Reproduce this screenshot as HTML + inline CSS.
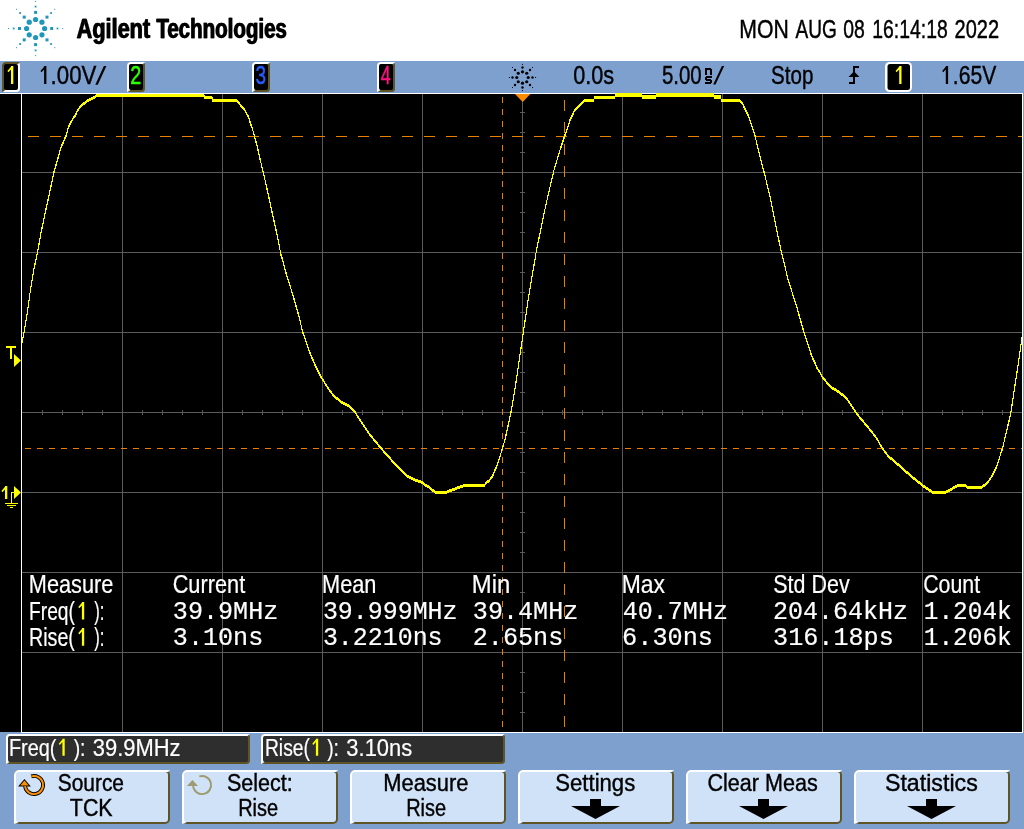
<!DOCTYPE html>
<html><head><meta charset="utf-8"><title>Agilent Technologies</title>
<style>html,body{margin:0;padding:0;background:#fff;}body{width:1024px;height:829px;overflow:hidden;font-family:"Liberation Sans",sans-serif;}svg{display:block;position:absolute;left:0;top:0;will-change:transform;}text{font-family:"Liberation Sans",sans-serif;white-space:pre;}</style>
</head><body>
<svg width="1024" height="829" viewBox="0 0 1024 829">
<rect x="0" y="0" width="1024" height="61" fill="#fff"/>
<rect x="0" y="61" width="1024" height="768" fill="#7da0cf"/>
<g shape-rendering="crispEdges">
<rect x="0" y="94" width="21" height="638" fill="#000"/>
<rect x="0" y="93" width="1023" height="1" fill="#fff"/>
<rect x="21" y="93" width="1002" height="640" fill="#fff"/>
<rect x="22" y="94" width="1000" height="638" fill="#000"/>
<path d="M122 94h1v638h-1zM222 94h1v638h-1zM322 94h1v638h-1zM422 94h1v638h-1zM522 94h1v638h-1zM622 94h1v638h-1zM722 94h1v638h-1zM822 94h1v638h-1zM922 94h1v638h-1zM22 172h1000v1h-1000zM22 252h1000v1h-1000zM22 332h1000v1h-1000zM22 412h1000v1h-1000zM22 492h1000v1h-1000zM22 572h1000v1h-1000zM22 652h1000v1h-1000zM42 410h1v5h-1zM62 410h1v5h-1zM82 410h1v5h-1zM102 410h1v5h-1zM142 410h1v5h-1zM162 410h1v5h-1zM182 410h1v5h-1zM202 410h1v5h-1zM242 410h1v5h-1zM262 410h1v5h-1zM282 410h1v5h-1zM302 410h1v5h-1zM342 410h1v5h-1zM362 410h1v5h-1zM382 410h1v5h-1zM402 410h1v5h-1zM442 410h1v5h-1zM462 410h1v5h-1zM482 410h1v5h-1zM502 410h1v5h-1zM542 410h1v5h-1zM562 410h1v5h-1zM582 410h1v5h-1zM602 410h1v5h-1zM642 410h1v5h-1zM662 410h1v5h-1zM682 410h1v5h-1zM702 410h1v5h-1zM742 410h1v5h-1zM762 410h1v5h-1zM782 410h1v5h-1zM802 410h1v5h-1zM842 410h1v5h-1zM862 410h1v5h-1zM882 410h1v5h-1zM902 410h1v5h-1zM942 410h1v5h-1zM962 410h1v5h-1zM982 410h1v5h-1zM1002 410h1v5h-1zM520 112h5v1h-5zM520 132h5v1h-5zM520 152h5v1h-5zM520 192h5v1h-5zM520 212h5v1h-5zM520 232h5v1h-5zM520 272h5v1h-5zM520 292h5v1h-5zM520 312h5v1h-5zM520 352h5v1h-5zM520 372h5v1h-5zM520 392h5v1h-5zM520 432h5v1h-5zM520 452h5v1h-5zM520 472h5v1h-5zM520 512h5v1h-5zM520 532h5v1h-5zM520 552h5v1h-5zM520 592h5v1h-5zM520 612h5v1h-5zM520 632h5v1h-5zM520 672h5v1h-5zM520 692h5v1h-5zM520 712h5v1h-5z" fill="#5a5a5a"/>
<path d="M28 136h11v1h-11zM50 136h11v1h-11zM72 136h11v1h-11zM94 136h11v1h-11zM116 136h11v1h-11zM138 136h11v1h-11zM160 136h11v1h-11zM182 136h11v1h-11zM204 136h11v1h-11zM226 136h11v1h-11zM248 136h11v1h-11zM270 136h11v1h-11zM292 136h11v1h-11zM314 136h11v1h-11zM336 136h11v1h-11zM358 136h11v1h-11zM380 136h11v1h-11zM402 136h11v1h-11zM424 136h11v1h-11zM446 136h11v1h-11zM468 136h11v1h-11zM490 136h11v1h-11zM512 136h11v1h-11zM534 136h11v1h-11zM556 136h11v1h-11zM578 136h11v1h-11zM600 136h11v1h-11zM622 136h11v1h-11zM644 136h11v1h-11zM666 136h11v1h-11zM688 136h11v1h-11zM710 136h11v1h-11zM732 136h11v1h-11zM754 136h11v1h-11zM776 136h11v1h-11zM798 136h11v1h-11zM820 136h11v1h-11zM842 136h11v1h-11zM864 136h11v1h-11zM886 136h11v1h-11zM908 136h11v1h-11zM930 136h11v1h-11zM952 136h11v1h-11zM974 136h11v1h-11zM996 136h11v1h-11zM1018 136h4v1h-4zM25 448h6v1h-6zM37 448h6v1h-6zM49 448h6v1h-6zM61 448h6v1h-6zM73 448h6v1h-6zM85 448h6v1h-6zM97 448h6v1h-6zM109 448h6v1h-6zM121 448h6v1h-6zM133 448h6v1h-6zM145 448h6v1h-6zM157 448h6v1h-6zM169 448h6v1h-6zM181 448h6v1h-6zM193 448h6v1h-6zM205 448h6v1h-6zM217 448h6v1h-6zM229 448h6v1h-6zM241 448h6v1h-6zM253 448h6v1h-6zM265 448h6v1h-6zM277 448h6v1h-6zM289 448h6v1h-6zM301 448h6v1h-6zM313 448h6v1h-6zM325 448h6v1h-6zM337 448h6v1h-6zM349 448h6v1h-6zM361 448h6v1h-6zM373 448h6v1h-6zM385 448h6v1h-6zM397 448h6v1h-6zM409 448h6v1h-6zM421 448h6v1h-6zM433 448h6v1h-6zM445 448h6v1h-6zM457 448h6v1h-6zM469 448h6v1h-6zM481 448h6v1h-6zM493 448h6v1h-6zM505 448h6v1h-6zM517 448h6v1h-6zM529 448h6v1h-6zM541 448h6v1h-6zM553 448h6v1h-6zM565 448h6v1h-6zM577 448h6v1h-6zM589 448h6v1h-6zM601 448h6v1h-6zM613 448h6v1h-6zM625 448h6v1h-6zM637 448h6v1h-6zM649 448h6v1h-6zM661 448h6v1h-6zM673 448h6v1h-6zM685 448h6v1h-6zM697 448h6v1h-6zM709 448h6v1h-6zM721 448h6v1h-6zM733 448h6v1h-6zM745 448h6v1h-6zM757 448h6v1h-6zM769 448h6v1h-6zM781 448h6v1h-6zM793 448h6v1h-6zM805 448h6v1h-6zM817 448h6v1h-6zM829 448h6v1h-6zM841 448h6v1h-6zM853 448h6v1h-6zM865 448h6v1h-6zM877 448h6v1h-6zM889 448h6v1h-6zM901 448h6v1h-6zM913 448h6v1h-6zM925 448h6v1h-6zM937 448h6v1h-6zM949 448h6v1h-6zM961 448h6v1h-6zM973 448h6v1h-6zM985 448h6v1h-6zM997 448h6v1h-6zM1009 448h6v1h-6zM1021 448h1v1h-1zM502 97h1v6h-1zM502 109h1v6h-1zM502 121h1v6h-1zM502 133h1v6h-1zM502 145h1v6h-1zM502 157h1v6h-1zM502 169h1v6h-1zM502 181h1v6h-1zM502 193h1v6h-1zM502 205h1v6h-1zM502 217h1v6h-1zM502 229h1v6h-1zM502 241h1v6h-1zM502 253h1v6h-1zM502 265h1v6h-1zM502 277h1v6h-1zM502 289h1v6h-1zM502 301h1v6h-1zM502 313h1v6h-1zM502 325h1v6h-1zM502 337h1v6h-1zM502 349h1v6h-1zM502 361h1v6h-1zM502 373h1v6h-1zM502 385h1v6h-1zM502 397h1v6h-1zM502 409h1v6h-1zM502 421h1v6h-1zM502 433h1v6h-1zM502 445h1v6h-1zM502 457h1v6h-1zM502 469h1v6h-1zM502 481h1v6h-1zM502 493h1v6h-1zM502 505h1v6h-1zM502 517h1v6h-1zM502 529h1v6h-1zM502 541h1v6h-1zM502 553h1v6h-1zM502 565h1v6h-1zM502 577h1v6h-1zM502 589h1v6h-1zM502 601h1v6h-1zM502 613h1v6h-1zM502 625h1v6h-1zM502 637h1v6h-1zM502 649h1v6h-1zM502 661h1v6h-1zM502 673h1v6h-1zM502 685h1v6h-1zM502 697h1v6h-1zM502 709h1v6h-1zM502 721h1v6h-1zM564 100h1v11h-1zM564 122h1v11h-1zM564 144h1v11h-1zM564 166h1v11h-1zM564 188h1v11h-1zM564 210h1v11h-1zM564 232h1v11h-1zM564 254h1v11h-1zM564 276h1v11h-1zM564 298h1v11h-1zM564 320h1v11h-1zM564 342h1v11h-1zM564 364h1v11h-1zM564 386h1v11h-1zM564 408h1v11h-1zM564 430h1v11h-1zM564 452h1v11h-1zM564 474h1v11h-1zM564 496h1v11h-1zM564 518h1v11h-1zM564 540h1v11h-1zM564 562h1v11h-1zM564 584h1v11h-1zM564 606h1v11h-1zM564 628h1v11h-1zM564 650h1v11h-1zM564 672h1v11h-1zM564 694h1v11h-1zM564 716h1v11h-1z" fill="#ec7e00"/>
<path d="M22 337h1v6h-1zM23 332h1v6h-1zM24 326h1v7h-1zM25 320h1v7h-1zM26 314h1v7h-1zM27 307h1v8h-1zM28 300h1v8h-1zM29 293h1v8h-1zM30 286h1v7h-1zM31 280h1v7h-1zM32 274h1v7h-1zM33 268h1v7h-1zM34 263h1v6h-1zM35 259h1v6h-1zM36 254h1v6h-1zM37 249h1v6h-1zM38 243h1v7h-1zM39 238h1v7h-1zM40 232h1v7h-1zM41 227h1v6h-1zM42 223h1v6h-1zM43 218h1v6h-1zM44 213h1v6h-1zM45 208h1v6h-1zM46 204h1v6h-1zM47 199h1v6h-1zM48 195h1v6h-1zM49 190h1v6h-1zM50 185h1v6h-1zM51 181h1v6h-1zM52 176h1v6h-1zM53 171h1v6h-1zM54 168h1v5h-1zM55 164h1v5h-1zM56 161h1v5h-1zM57 157h1v5h-1zM58 154h1v5h-1zM59 150h1v5h-1zM60 147h1v4h-1zM61 144h1v4h-1zM62 142h1v4h-1zM63 140h1v4h-1zM64 137h1v4h-1zM65 135h1v4h-1zM66 132h1v5h-1zM67 128h1v5h-1zM68 125h1v4h-1zM69 123h1v4h-1zM70 121h1v4h-1zM71 120h1v3h-1zM72 118h1v3h-1zM73 116h1v3h-1zM74 115h1v3h-1zM75 113h1v4h-1zM76 111h1v4h-1zM77 109h1v3h-1zM78 108h1v3h-1zM79 106h1v3h-1zM80 105h1v3h-1zM81 104h1v3h-1zM82 103h1v3h-1zM83 102h1v3h-1zM84 102h1v3h-1zM85 101h1v3h-1zM86 100h1v3h-1zM87 99h1v3h-1zM88 99h1v3h-1zM89 98h1v3h-1zM90 98h1v3h-1zM91 97h1v3h-1zM92 97h1v3h-1zM93 96h1v3h-1zM94 96h1v3h-1zM95 95h1v3h-1zM96 94h1v3h-1zM97 94h1v3h-1zM98 94h1v3h-1zM99 94h1v3h-1zM100 94h1v3h-1zM101 94h1v3h-1zM102 94h1v3h-1zM103 94h1v3h-1zM104 94h1v3h-1zM105 94h1v3h-1zM106 94h1v3h-1zM107 94h1v3h-1zM108 94h1v3h-1zM109 94h1v3h-1zM110 94h1v3h-1zM111 94h1v3h-1zM112 94h1v3h-1zM113 94h1v3h-1zM114 94h1v3h-1zM115 94h1v3h-1zM116 94h1v3h-1zM117 94h1v3h-1zM118 94h1v3h-1zM119 94h1v3h-1zM120 94h1v3h-1zM121 94h1v3h-1zM122 94h1v3h-1zM123 94h1v3h-1zM124 94h1v3h-1zM125 94h1v3h-1zM126 94h1v3h-1zM127 94h1v3h-1zM128 94h1v3h-1zM129 94h1v3h-1zM130 94h1v3h-1zM131 94h1v3h-1zM132 94h1v3h-1zM133 94h1v3h-1zM134 94h1v3h-1zM135 94h1v3h-1zM136 94h1v3h-1zM137 94h1v3h-1zM138 94h1v3h-1zM139 94h1v3h-1zM140 94h1v3h-1zM141 94h1v3h-1zM142 94h1v3h-1zM143 94h1v3h-1zM144 94h1v3h-1zM145 94h1v3h-1zM146 94h1v3h-1zM147 94h1v3h-1zM148 94h1v3h-1zM149 94h1v3h-1zM150 94h1v3h-1zM151 94h1v3h-1zM152 94h1v3h-1zM153 94h1v3h-1zM154 94h1v3h-1zM155 94h1v3h-1zM156 94h1v3h-1zM157 94h1v3h-1zM158 94h1v3h-1zM159 94h1v3h-1zM160 94h1v3h-1zM161 94h1v3h-1zM162 94h1v3h-1zM163 94h1v3h-1zM164 94h1v3h-1zM165 94h1v3h-1zM166 94h1v3h-1zM167 94h1v3h-1zM168 94h1v3h-1zM169 94h1v3h-1zM170 94h1v3h-1zM171 94h1v3h-1zM172 94h1v3h-1zM173 94h1v3h-1zM174 94h1v3h-1zM175 94h1v3h-1zM176 94h1v3h-1zM177 94h1v3h-1zM178 94h1v3h-1zM179 94h1v3h-1zM180 94h1v3h-1zM181 94h1v3h-1zM182 94h1v3h-1zM183 94h1v3h-1zM184 94h1v3h-1zM185 94h1v3h-1zM186 94h1v3h-1zM187 94h1v3h-1zM188 94h1v3h-1zM189 94h1v3h-1zM190 94h1v3h-1zM191 94h1v3h-1zM192 94h1v3h-1zM193 94h1v3h-1zM194 94h1v3h-1zM195 94h1v3h-1zM196 94h1v3h-1zM197 94h1v3h-1zM198 94h1v3h-1zM199 94h1v3h-1zM200 94h1v3h-1zM201 94h1v3h-1zM202 94h1v3h-1zM203 94h1v3h-1zM204 95h1v4h-1zM205 96h1v3h-1zM206 96h1v3h-1zM207 96h1v3h-1zM208 96h1v3h-1zM209 96h1v3h-1zM210 96h1v3h-1zM211 96h1v3h-1zM212 97h1v5h-1zM213 99h1v3h-1zM214 99h1v3h-1zM215 99h1v3h-1zM216 99h1v3h-1zM217 99h1v3h-1zM218 99h1v3h-1zM219 99h1v3h-1zM220 99h1v3h-1zM221 99h1v3h-1zM222 99h1v3h-1zM223 99h1v3h-1zM224 99h1v3h-1zM225 99h1v3h-1zM226 99h1v3h-1zM227 99h1v3h-1zM228 99h1v3h-1zM229 99h1v3h-1zM230 99h1v3h-1zM231 99h1v3h-1zM232 99h1v3h-1zM233 99h1v3h-1zM234 99h1v3h-1zM235 99h1v3h-1zM236 99h1v3h-1zM237 100h1v3h-1zM238 101h1v3h-1zM239 102h1v3h-1zM240 104h1v3h-1zM241 105h1v3h-1zM242 106h1v3h-1zM243 107h1v3h-1zM244 108h1v3h-1zM245 110h1v3h-1zM246 112h1v3h-1zM247 114h1v3h-1zM248 115h1v4h-1zM249 118h1v5h-1zM250 121h1v5h-1zM251 124h1v4h-1zM252 127h1v4h-1zM253 131h1v4h-1zM254 134h1v5h-1zM255 138h1v5h-1zM256 141h1v5h-1zM257 145h1v6h-1zM258 149h1v6h-1zM259 154h1v6h-1zM260 158h1v5h-1zM261 163h1v5h-1zM262 167h1v5h-1zM263 171h1v5h-1zM264 175h1v5h-1zM265 180h1v5h-1zM266 184h1v6h-1zM267 188h1v6h-1zM268 193h1v6h-1zM269 197h1v6h-1zM270 202h1v6h-1zM271 207h1v6h-1zM272 211h1v6h-1zM273 216h1v6h-1zM274 220h1v6h-1zM275 225h1v6h-1zM276 229h1v6h-1zM277 234h1v6h-1zM278 239h1v6h-1zM279 244h1v6h-1zM280 250h1v6h-1zM281 254h1v5h-1zM282 257h1v5h-1zM283 261h1v5h-1zM284 265h1v5h-1zM285 269h1v5h-1zM286 272h1v5h-1zM287 276h1v4h-1zM288 279h1v4h-1zM289 282h1v4h-1zM290 285h1v4h-1zM291 289h1v4h-1zM292 292h1v4h-1zM293 295h1v5h-1zM294 298h1v5h-1zM295 302h1v5h-1zM296 305h1v5h-1zM297 309h1v5h-1zM298 312h1v5h-1zM299 316h1v5h-1zM300 320h1v5h-1zM301 325h1v5h-1zM302 329h1v5h-1zM303 332h1v4h-1zM304 335h1v4h-1zM305 338h1v4h-1zM306 341h1v4h-1zM307 344h1v4h-1zM308 347h1v4h-1zM309 350h1v4h-1zM310 352h1v4h-1zM311 355h1v4h-1zM312 357h1v4h-1zM313 359h1v4h-1zM314 362h1v4h-1zM315 364h1v4h-1zM316 366h1v4h-1zM317 368h1v4h-1zM318 370h1v4h-1zM319 372h1v4h-1zM320 374h1v4h-1zM321 376h1v3h-1zM322 378h1v3h-1zM323 379h1v3h-1zM324 381h1v3h-1zM325 383h1v3h-1zM326 384h1v3h-1zM327 386h1v3h-1zM328 387h1v3h-1zM329 389h1v3h-1zM330 390h1v3h-1zM331 391h1v3h-1zM332 393h1v3h-1zM333 394h1v3h-1zM334 395h1v3h-1zM335 396h1v3h-1zM336 397h1v3h-1zM337 397h1v3h-1zM338 398h1v3h-1zM339 399h1v3h-1zM340 400h1v3h-1zM341 401h1v3h-1zM342 401h1v3h-1zM343 402h1v3h-1zM344 402h1v3h-1zM345 403h1v3h-1zM346 403h1v3h-1zM347 404h1v3h-1zM348 404h1v3h-1zM349 405h1v3h-1zM350 406h1v3h-1zM351 407h1v3h-1zM352 408h1v3h-1zM353 409h1v3h-1zM354 410h1v3h-1zM355 411h1v3h-1zM356 413h1v3h-1zM357 415h1v3h-1zM358 416h1v3h-1zM359 418h1v3h-1zM360 419h1v3h-1zM361 421h1v3h-1zM362 422h1v3h-1zM363 424h1v3h-1zM364 425h1v3h-1zM365 427h1v3h-1zM366 428h1v3h-1zM367 430h1v3h-1zM368 431h1v3h-1zM369 433h1v3h-1zM370 434h1v3h-1zM371 435h1v3h-1zM372 436h1v3h-1zM373 438h1v3h-1zM374 439h1v3h-1zM375 440h1v3h-1zM376 441h1v3h-1zM377 442h1v3h-1zM378 444h1v3h-1zM379 445h1v3h-1zM380 446h1v3h-1zM381 447h1v3h-1zM382 448h1v3h-1zM383 450h1v3h-1zM384 451h1v3h-1zM385 452h1v3h-1zM386 453h1v3h-1zM387 454h1v3h-1zM388 455h1v3h-1zM389 456h1v3h-1zM390 457h1v3h-1zM391 459h1v3h-1zM392 460h1v3h-1zM393 461h1v3h-1zM394 462h1v3h-1zM395 463h1v3h-1zM396 464h1v3h-1zM397 465h1v3h-1zM398 466h1v3h-1zM399 467h1v3h-1zM400 468h1v3h-1zM401 469h1v3h-1zM402 470h1v3h-1zM403 471h1v3h-1zM404 472h1v3h-1zM405 473h1v3h-1zM406 474h1v3h-1zM407 475h1v3h-1zM408 475h1v3h-1zM409 476h1v3h-1zM410 476h1v3h-1zM411 477h1v3h-1zM412 477h1v3h-1zM413 478h1v3h-1zM414 478h1v3h-1zM415 479h1v3h-1zM416 479h1v3h-1zM417 479h1v3h-1zM418 480h1v3h-1zM419 480h1v3h-1zM420 480h1v3h-1zM421 481h1v3h-1zM422 481h1v3h-1zM423 482h1v3h-1zM424 483h1v3h-1zM425 484h1v3h-1zM426 484h1v3h-1zM427 485h1v3h-1zM428 485h1v3h-1zM429 486h1v3h-1zM430 487h1v3h-1zM431 488h1v3h-1zM432 489h1v3h-1zM433 489h1v3h-1zM434 490h1v3h-1zM435 491h1v3h-1zM436 491h1v3h-1zM437 491h1v3h-1zM438 491h1v3h-1zM439 491h1v3h-1zM440 491h1v3h-1zM441 491h1v3h-1zM442 491h1v3h-1zM443 491h1v3h-1zM444 491h1v3h-1zM445 491h1v3h-1zM446 491h1v3h-1zM447 490h1v3h-1zM448 490h1v3h-1zM449 489h1v3h-1zM450 489h1v3h-1zM451 489h1v3h-1zM452 488h1v3h-1zM453 488h1v3h-1zM454 488h1v3h-1zM455 487h1v3h-1zM456 487h1v3h-1zM457 486h1v3h-1zM458 486h1v3h-1zM459 486h1v3h-1zM460 485h1v3h-1zM461 485h1v3h-1zM462 485h1v3h-1zM463 484h1v3h-1zM464 484h1v3h-1zM465 484h1v3h-1zM466 484h1v3h-1zM467 484h1v3h-1zM468 484h1v3h-1zM469 484h1v3h-1zM470 484h1v3h-1zM471 484h1v3h-1zM472 484h1v3h-1zM473 484h1v3h-1zM474 484h1v3h-1zM475 484h1v3h-1zM476 484h1v3h-1zM477 484h1v3h-1zM478 484h1v3h-1zM479 484h1v3h-1zM480 484h1v3h-1zM481 484h1v3h-1zM482 484h1v3h-1zM483 484h1v3h-1zM484 484h1v3h-1zM485 482h1v3h-1zM486 481h1v3h-1zM487 480h1v3h-1zM488 480h1v3h-1zM489 479h1v3h-1zM490 477h1v3h-1zM491 476h1v3h-1zM492 474h1v4h-1zM493 472h1v4h-1zM494 469h1v4h-1zM495 467h1v4h-1zM496 465h1v4h-1zM497 462h1v4h-1zM498 459h1v4h-1zM499 456h1v4h-1zM500 453h1v4h-1zM501 449h1v4h-1zM502 446h1v4h-1zM503 443h1v4h-1zM504 439h1v4h-1zM505 434h1v6h-1zM506 430h1v6h-1zM507 425h1v6h-1zM508 421h1v6h-1zM509 416h1v6h-1zM510 411h1v6h-1zM511 406h1v7h-1zM512 400h1v7h-1zM513 394h1v7h-1zM514 388h1v7h-1zM515 381h1v8h-1zM516 375h1v8h-1zM517 368h1v8h-1zM518 361h1v8h-1zM519 354h1v8h-1zM520 347h1v8h-1zM521 341h1v8h-1zM522 334h1v8h-1zM523 327h1v8h-1zM524 320h1v8h-1zM525 314h1v8h-1zM526 307h1v8h-1zM527 300h1v8h-1zM528 294h1v7h-1zM529 288h1v7h-1zM530 282h1v7h-1zM531 276h1v7h-1zM532 270h1v7h-1zM533 264h1v7h-1zM534 259h1v7h-1zM535 253h1v7h-1zM536 247h1v6h-1zM537 242h1v6h-1zM538 237h1v6h-1zM539 233h1v6h-1zM540 228h1v6h-1zM541 223h1v6h-1zM542 218h1v6h-1zM543 213h1v6h-1zM544 209h1v5h-1zM545 204h1v5h-1zM546 200h1v5h-1zM547 195h1v5h-1zM548 191h1v5h-1zM549 187h1v5h-1zM550 182h1v5h-1zM551 178h1v5h-1zM552 174h1v5h-1zM553 170h1v5h-1zM554 166h1v4h-1zM555 163h1v4h-1zM556 160h1v4h-1zM557 156h1v4h-1zM558 153h1v4h-1zM559 150h1v4h-1zM560 146h1v4h-1zM561 143h1v5h-1zM562 140h1v5h-1zM563 137h1v5h-1zM564 134h1v5h-1zM565 132h1v4h-1zM566 129h1v4h-1zM567 126h1v4h-1zM568 123h1v4h-1zM569 119h1v5h-1zM570 117h1v4h-1zM571 115h1v4h-1zM572 113h1v4h-1zM573 111h1v4h-1zM574 109h1v3h-1zM575 108h1v3h-1zM576 107h1v3h-1zM577 106h1v3h-1zM578 105h1v3h-1zM579 104h1v3h-1zM580 103h1v3h-1zM581 102h1v3h-1zM582 101h1v3h-1zM583 100h1v3h-1zM584 99h1v3h-1zM585 99h1v3h-1zM586 99h1v3h-1zM587 99h1v3h-1zM588 99h1v3h-1zM589 99h1v3h-1zM590 99h1v3h-1zM591 99h1v3h-1zM592 99h1v3h-1zM593 99h1v3h-1zM594 96h1v3h-1zM595 96h1v3h-1zM596 96h1v3h-1zM597 96h1v3h-1zM598 96h1v3h-1zM599 96h1v3h-1zM600 96h1v3h-1zM601 96h1v3h-1zM602 96h1v3h-1zM603 96h1v3h-1zM604 96h1v3h-1zM605 96h1v3h-1zM606 96h1v3h-1zM607 96h1v3h-1zM608 96h1v3h-1zM609 96h1v3h-1zM610 96h1v3h-1zM611 96h1v3h-1zM612 96h1v3h-1zM613 96h1v3h-1zM614 96h1v3h-1zM615 93h1v4h-1zM616 93h1v4h-1zM617 93h1v4h-1zM618 93h1v4h-1zM619 93h1v4h-1zM620 93h1v4h-1zM621 93h1v4h-1zM622 93h1v4h-1zM623 93h1v4h-1zM624 93h1v4h-1zM625 93h1v4h-1zM626 93h1v4h-1zM627 93h1v4h-1zM628 93h1v4h-1zM629 93h1v4h-1zM630 93h1v4h-1zM631 93h1v4h-1zM632 93h1v4h-1zM633 93h1v4h-1zM634 93h1v4h-1zM635 93h1v4h-1zM636 93h1v4h-1zM637 93h1v4h-1zM638 93h1v4h-1zM639 93h1v4h-1zM640 93h1v4h-1zM641 93h1v4h-1zM642 95h1v4h-1zM643 95h1v4h-1zM644 95h1v4h-1zM645 95h1v4h-1zM646 95h1v4h-1zM647 95h1v4h-1zM648 95h1v4h-1zM649 95h1v4h-1zM650 95h1v4h-1zM651 95h1v4h-1zM652 95h1v4h-1zM653 95h1v4h-1zM654 95h1v4h-1zM655 95h1v4h-1zM656 93h1v4h-1zM657 93h1v4h-1zM658 93h1v4h-1zM659 93h1v4h-1zM660 93h1v4h-1zM661 93h1v4h-1zM662 93h1v4h-1zM663 93h1v4h-1zM664 93h1v4h-1zM665 93h1v4h-1zM666 93h1v4h-1zM667 93h1v4h-1zM668 93h1v4h-1zM669 93h1v4h-1zM670 93h1v4h-1zM671 93h1v4h-1zM672 93h1v4h-1zM673 93h1v4h-1zM674 93h1v4h-1zM675 93h1v4h-1zM676 93h1v4h-1zM677 93h1v4h-1zM678 93h1v4h-1zM679 93h1v4h-1zM680 93h1v4h-1zM681 93h1v4h-1zM682 93h1v4h-1zM683 93h1v4h-1zM684 93h1v4h-1zM685 93h1v4h-1zM686 93h1v4h-1zM687 93h1v4h-1zM688 93h1v4h-1zM689 93h1v4h-1zM690 93h1v4h-1zM691 93h1v4h-1zM692 93h1v4h-1zM693 93h1v4h-1zM694 93h1v4h-1zM695 93h1v4h-1zM696 93h1v4h-1zM697 93h1v4h-1zM698 93h1v4h-1zM699 93h1v4h-1zM700 93h1v4h-1zM701 93h1v4h-1zM702 93h1v4h-1zM703 93h1v4h-1zM704 93h1v4h-1zM705 93h1v4h-1zM706 93h1v4h-1zM707 93h1v4h-1zM708 93h1v4h-1zM709 93h1v4h-1zM710 93h1v4h-1zM711 93h1v4h-1zM712 93h1v4h-1zM713 93h1v4h-1zM714 95h1v4h-1zM715 95h1v4h-1zM716 95h1v4h-1zM717 95h1v4h-1zM718 95h1v4h-1zM719 95h1v4h-1zM720 95h1v4h-1zM721 99h1v3h-1zM722 99h1v3h-1zM723 99h1v3h-1zM724 99h1v3h-1zM725 99h1v3h-1zM726 99h1v3h-1zM727 99h1v3h-1zM728 99h1v3h-1zM729 99h1v3h-1zM730 99h1v3h-1zM731 99h1v3h-1zM732 99h1v3h-1zM733 99h1v3h-1zM734 99h1v3h-1zM735 99h1v3h-1zM736 99h1v3h-1zM737 99h1v3h-1zM738 99h1v3h-1zM739 99h1v3h-1zM740 100h1v3h-1zM741 101h1v3h-1zM742 102h1v3h-1zM743 104h1v4h-1zM744 106h1v4h-1zM745 108h1v4h-1zM746 110h1v4h-1zM747 112h1v4h-1zM748 114h1v4h-1zM749 117h1v4h-1zM750 120h1v4h-1zM751 123h1v4h-1zM752 126h1v4h-1zM753 129h1v4h-1zM754 132h1v4h-1zM755 135h1v5h-1zM756 140h1v5h-1zM757 144h1v5h-1zM758 148h1v5h-1zM759 152h1v5h-1zM760 156h1v5h-1zM761 160h1v5h-1zM762 164h1v5h-1zM763 168h1v5h-1zM764 171h1v5h-1zM765 175h1v5h-1zM766 180h1v5h-1zM767 184h1v5h-1zM768 188h1v5h-1zM769 192h1v5h-1zM770 196h1v6h-1zM771 201h1v6h-1zM772 206h1v6h-1zM773 211h1v6h-1zM774 216h1v6h-1zM775 221h1v6h-1zM776 226h1v6h-1zM777 231h1v6h-1zM778 236h1v6h-1zM779 240h1v6h-1zM780 245h1v6h-1zM781 250h1v5h-1zM782 254h1v5h-1zM783 258h1v5h-1zM784 262h1v5h-1zM785 266h1v5h-1zM786 271h1v5h-1zM787 275h1v5h-1zM788 279h1v4h-1zM789 282h1v4h-1zM790 285h1v4h-1zM791 288h1v4h-1zM792 292h1v4h-1zM793 295h1v4h-1zM794 298h1v4h-1zM795 301h1v4h-1zM796 304h1v4h-1zM797 307h1v5h-1zM798 311h1v5h-1zM799 314h1v5h-1zM800 318h1v5h-1zM801 321h1v5h-1zM802 325h1v5h-1zM803 328h1v5h-1zM804 332h1v4h-1zM805 335h1v4h-1zM806 338h1v4h-1zM807 341h1v4h-1zM808 344h1v4h-1zM809 347h1v4h-1zM810 350h1v5h-1zM811 353h1v4h-1zM812 356h1v4h-1zM813 358h1v4h-1zM814 360h1v4h-1zM815 362h1v4h-1zM816 365h1v4h-1zM817 367h1v3h-1zM818 369h1v3h-1zM819 370h1v3h-1zM820 372h1v3h-1zM821 374h1v3h-1zM822 376h1v3h-1zM823 377h1v3h-1zM824 378h1v3h-1zM825 379h1v3h-1zM826 381h1v3h-1zM827 382h1v3h-1zM828 383h1v3h-1zM829 384h1v3h-1zM830 385h1v3h-1zM831 386h1v3h-1zM832 387h1v3h-1zM833 387h1v3h-1zM834 388h1v3h-1zM835 388h1v3h-1zM836 389h1v3h-1zM837 390h1v3h-1zM838 390h1v3h-1zM839 391h1v3h-1zM840 392h1v3h-1zM841 393h1v3h-1zM842 393h1v3h-1zM843 394h1v3h-1zM844 395h1v3h-1zM845 396h1v3h-1zM846 397h1v3h-1zM847 398h1v3h-1zM848 400h1v3h-1zM849 401h1v3h-1zM850 403h1v3h-1zM851 404h1v3h-1zM852 406h1v3h-1zM853 407h1v3h-1zM854 409h1v3h-1zM855 410h1v3h-1zM856 412h1v3h-1zM857 413h1v3h-1zM858 414h1v3h-1zM859 416h1v3h-1zM860 417h1v3h-1zM861 418h1v3h-1zM862 419h1v3h-1zM863 420h1v3h-1zM864 422h1v3h-1zM865 423h1v3h-1zM866 424h1v3h-1zM867 425h1v3h-1zM868 426h1v3h-1zM869 428h1v3h-1zM870 429h1v3h-1zM871 430h1v3h-1zM872 431h1v3h-1zM873 433h1v3h-1zM874 434h1v3h-1zM875 435h1v3h-1zM876 437h1v3h-1zM877 438h1v3h-1zM878 440h1v3h-1zM879 442h1v3h-1zM880 444h1v3h-1zM881 445h1v3h-1zM882 447h1v3h-1zM883 448h1v3h-1zM884 450h1v3h-1zM885 451h1v3h-1zM886 452h1v3h-1zM887 454h1v3h-1zM888 455h1v3h-1zM889 456h1v3h-1zM890 457h1v3h-1zM891 457h1v3h-1zM892 458h1v3h-1zM893 459h1v3h-1zM894 460h1v3h-1zM895 461h1v3h-1zM896 462h1v3h-1zM897 463h1v3h-1zM898 463h1v3h-1zM899 464h1v3h-1zM900 465h1v3h-1zM901 466h1v3h-1zM902 467h1v3h-1zM903 468h1v3h-1zM904 469h1v3h-1zM905 470h1v3h-1zM906 471h1v3h-1zM907 471h1v3h-1zM908 472h1v3h-1zM909 473h1v3h-1zM910 474h1v3h-1zM911 475h1v3h-1zM912 476h1v3h-1zM913 477h1v3h-1zM914 477h1v3h-1zM915 478h1v3h-1zM916 479h1v3h-1zM917 480h1v3h-1zM918 481h1v3h-1zM919 481h1v3h-1zM920 482h1v3h-1zM921 483h1v3h-1zM922 484h1v3h-1zM923 485h1v3h-1zM924 485h1v3h-1zM925 486h1v3h-1zM926 487h1v3h-1zM927 487h1v3h-1zM928 488h1v3h-1zM929 489h1v3h-1zM930 489h1v3h-1zM931 490h1v3h-1zM932 491h1v3h-1zM933 491h1v3h-1zM934 491h1v3h-1zM935 491h1v3h-1zM936 491h1v3h-1zM937 491h1v3h-1zM938 491h1v3h-1zM939 491h1v3h-1zM940 491h1v3h-1zM941 491h1v3h-1zM942 491h1v3h-1zM943 491h1v3h-1zM944 491h1v3h-1zM945 491h1v3h-1zM946 490h1v3h-1zM947 490h1v3h-1zM948 489h1v3h-1zM949 489h1v3h-1zM950 488h1v3h-1zM951 488h1v3h-1zM952 487h1v3h-1zM953 486h1v3h-1zM954 486h1v3h-1zM955 485h1v3h-1zM956 485h1v3h-1zM957 484h1v3h-1zM958 484h1v3h-1zM959 484h1v3h-1zM960 484h1v3h-1zM961 484h1v3h-1zM962 484h1v3h-1zM963 484h1v3h-1zM964 484h1v3h-1zM965 484h1v3h-1zM966 485h1v3h-1zM967 486h1v3h-1zM968 486h1v3h-1zM969 486h1v3h-1zM970 486h1v3h-1zM971 486h1v3h-1zM972 486h1v3h-1zM973 486h1v3h-1zM974 486h1v3h-1zM975 486h1v3h-1zM976 486h1v3h-1zM977 486h1v3h-1zM978 486h1v3h-1zM979 486h1v3h-1zM980 486h1v3h-1zM981 486h1v3h-1zM982 485h1v3h-1zM983 484h1v3h-1zM984 484h1v3h-1zM985 483h1v3h-1zM986 482h1v3h-1zM987 481h1v3h-1zM988 480h1v3h-1zM989 478h1v3h-1zM990 477h1v3h-1zM991 475h1v3h-1zM992 473h1v4h-1zM993 471h1v4h-1zM994 469h1v4h-1zM995 467h1v4h-1zM996 465h1v4h-1zM997 462h1v4h-1zM998 459h1v4h-1zM999 456h1v4h-1zM1000 452h1v4h-1zM1001 449h1v4h-1zM1002 446h1v5h-1zM1003 442h1v5h-1zM1004 437h1v5h-1zM1005 433h1v5h-1zM1006 429h1v5h-1zM1007 424h1v6h-1zM1008 420h1v6h-1zM1009 416h1v6h-1zM1010 411h1v6h-1zM1011 404h1v8h-1zM1012 398h1v8h-1zM1013 391h1v8h-1zM1014 384h1v8h-1zM1015 378h1v8h-1zM1016 371h1v8h-1zM1017 365h1v8h-1zM1018 358h1v8h-1zM1019 351h1v8h-1zM1020 344h1v8h-1zM1021 337h1v8h-1z" fill="#ffff00"/>
</g>
<path d="M515 94h15.4l-7.7 8z" fill="#ff8a00"/>
<g fill="#ffff00" shape-rendering="crispEdges">
<rect x="6" y="346" width="10" height="2"/><rect x="10" y="346" width="2" height="13"/>
</g>
<path d="M14 354l7 6.5l-7 6.5z" fill="#ffff00"/>
<path d="M14 486l7 6.5l-7 6.5z" fill="#ffff00"/>
<path d="M5.00 486.00h2.3v13.00h-2.3v-9.60l-2.6 2.9l-1 -1.3l3.6 -4.2z" fill="#ffff00"/>
<g fill="#ffff00" shape-rendering="crispEdges">
<rect x="11" y="492" width="3" height="1"/><rect x="11" y="492" width="1" height="11"/>
<rect x="5" y="503" width="13" height="1"/><rect x="7" y="505" width="9" height="1"/><rect x="10" y="507" width="3" height="1"/>
</g>
<text font-size="25.07" fill="#fff" transform="translate(28.86,593.30) scale(0.8655,1)" stroke="#fff" stroke-width="0.2">Measure</text>
<text font-size="25.07" fill="#fff" transform="translate(172.66,593.30) scale(0.8677,1)" stroke="#fff" stroke-width="0.2">Current</text>
<text font-size="25.07" fill="#fff" transform="translate(322.01,593.30) scale(0.8680,1)" stroke="#fff" stroke-width="0.2">Mean</text>
<text font-size="25.07" fill="#fff" transform="translate(471.84,593.30) scale(0.9529,1)" stroke="#fff" stroke-width="0.2">Min</text>
<text font-size="25.07" fill="#fff" transform="translate(621.67,593.30) scale(0.9140,1)" stroke="#fff" stroke-width="0.2">Max</text>
<text font-size="25.07" fill="#fff" transform="translate(773.28,593.30) scale(0.8563,1)" stroke="#fff" stroke-width="0.2">Std Dev</text>
<text font-size="25.07" fill="#fff" transform="translate(923.18,593.30) scale(0.8519,1)" stroke="#fff" stroke-width="0.2">Count</text>
<text font-size="25.07" fill="#fff" transform="translate(29.06,619.60) scale(0.7665,1)" stroke="#fff" stroke-width="0.2">Freq(</text>
<path d="M81.90 602.00h2.3v17.60h-2.3v-14.20l-2.6 2.9l-1 -1.3l3.6 -4.2z" fill="#ffff00"/>
<text font-size="25.07" fill="#fff" transform="translate(94.22,619.60) scale(0.6660,1)" stroke="#fff" stroke-width="0.2">):</text>
<text font-size="25.07" fill="#fff" transform="translate(29.02,645.70) scale(0.7853,1)" stroke="#fff" stroke-width="0.2">Rise(</text>
<path d="M81.90 628.10h2.3v17.60h-2.3v-14.20l-2.6 2.9l-1 -1.3l3.6 -4.2z" fill="#ffff00"/>
<text font-size="25.07" fill="#fff" transform="translate(94.22,645.70) scale(0.6660,1)" stroke="#fff" stroke-width="0.2">):</text>
<text font-size="26.06" fill="#fff" transform="translate(172.87,619.30) scale(0.9629,1)" style="font-family:'Liberation Mono',monospace" stroke="#fff" stroke-width="0.2">39.9MHz</text>
<text font-size="26.06" fill="#fff" transform="translate(322.88,619.30) scale(0.9566,1)" style="font-family:'Liberation Mono',monospace" stroke="#fff" stroke-width="0.2">39.999MHz</text>
<text font-size="26.06" fill="#fff" transform="translate(472.87,619.30) scale(0.9629,1)" style="font-family:'Liberation Mono',monospace" stroke="#fff" stroke-width="0.2">39.4MHz</text>
<text font-size="26.06" fill="#fff" transform="translate(622.75,619.30) scale(0.9617,1)" style="font-family:'Liberation Mono',monospace" stroke="#fff" stroke-width="0.2">40.7MHz</text>
<text font-size="26.06" fill="#fff" transform="translate(773.00,619.30) scale(0.9593,1)" style="font-family:'Liberation Mono',monospace" stroke="#fff" stroke-width="0.2">204.64kHz</text>
<text font-size="26.06" fill="#fff" transform="translate(923.79,619.30) scale(0.9372,1)" style="font-family:'Liberation Mono',monospace" stroke="#fff" stroke-width="0.2">1.204k</text>
<text font-size="26.06" fill="#fff" transform="translate(172.87,645.40) scale(0.9635,1)" style="font-family:'Liberation Mono',monospace" stroke="#fff" stroke-width="0.2">3.10ns</text>
<text font-size="26.06" fill="#fff" transform="translate(322.88,645.40) scale(0.9570,1)" style="font-family:'Liberation Mono',monospace" stroke="#fff" stroke-width="0.2">3.2210ns</text>
<text font-size="26.06" fill="#fff" transform="translate(472.74,645.40) scale(0.9649,1)" style="font-family:'Liberation Mono',monospace" stroke="#fff" stroke-width="0.2">2.65ns</text>
<text font-size="26.06" fill="#fff" transform="translate(622.11,645.40) scale(0.9690,1)" style="font-family:'Liberation Mono',monospace" stroke="#fff" stroke-width="0.2">6.30ns</text>
<text font-size="26.06" fill="#fff" transform="translate(773.12,645.40) scale(0.9645,1)" style="font-family:'Liberation Mono',monospace" stroke="#fff" stroke-width="0.2">316.18ps</text>
<text font-size="26.06" fill="#fff" transform="translate(923.79,645.40) scale(0.9372,1)" style="font-family:'Liberation Mono',monospace" stroke="#fff" stroke-width="0.2">1.206k</text>
<g fill="#2196bc"><circle cx="44.60" cy="28.50" r="2.6"/><rect x="50.20" y="27.00" width="3" height="3"/><rect x="56.60" y="27.60" width="1.8" height="1.8"/><rect x="62.20" y="28.00" width="1" height="1"/><circle cx="41.96" cy="34.86" r="2.6"/><rect x="45.48" y="38.38" width="3" height="3"/><rect x="50.19" y="43.09" width="1.8" height="1.8"/><rect x="54.26" y="47.16" width="1" height="1"/><circle cx="35.60" cy="37.50" r="2.6"/><rect x="34.10" y="43.10" width="3" height="3"/><rect x="34.70" y="49.50" width="1.8" height="1.8"/><rect x="35.10" y="55.10" width="1" height="1"/><circle cx="29.24" cy="34.86" r="2.6"/><rect x="22.72" y="38.38" width="3" height="3"/><rect x="19.21" y="43.09" width="1.8" height="1.8"/><rect x="15.94" y="47.16" width="1" height="1"/><circle cx="26.60" cy="28.50" r="2.6"/><rect x="18.00" y="27.00" width="3" height="3"/><rect x="12.80" y="27.60" width="1.8" height="1.8"/><rect x="8.00" y="28.00" width="1" height="1"/><circle cx="29.24" cy="22.14" r="2.6"/><rect x="22.72" y="15.62" width="3" height="3"/><rect x="19.21" y="12.11" width="1.8" height="1.8"/><rect x="15.94" y="8.84" width="1" height="1"/><circle cx="35.60" cy="19.50" r="2.6"/><rect x="34.10" y="10.90" width="3" height="3"/><rect x="34.70" y="5.70" width="1.8" height="1.8"/><rect x="35.10" y="0.90" width="1" height="1"/><circle cx="41.96" cy="22.14" r="2.6"/><rect x="45.48" y="15.62" width="3" height="3"/><rect x="50.19" y="12.11" width="1.8" height="1.8"/><rect x="54.26" y="8.84" width="1" height="1"/></g>
<text font-size="26.96" fill="#000" transform="translate(76.31,37.70) scale(0.8039,1)" font-weight="bold" stroke="#000" stroke-width="0.3">Agilent</text>
<text font-size="26.96" fill="#000" transform="translate(155.95,37.70) scale(0.7601,1)" font-weight="bold" stroke="#000" stroke-width="0.3">Technologies</text>
<text font-size="26.96" fill="#000" transform="translate(77.01,37.70) scale(0.8039,1)" font-weight="bold" stroke="#000" stroke-width="0.3">Agilent</text>
<text font-size="26.96" fill="#000" transform="translate(156.65,37.70) scale(0.7601,1)" font-weight="bold" stroke="#000" stroke-width="0.3">Technologies</text>
<text font-size="25.80" fill="#000" transform="translate(739.30,37.80) scale(0.8217,1)" stroke="#000" stroke-width="0.45">MON</text>
<text font-size="25.80" fill="#000" transform="translate(795.40,37.80) scale(0.7401,1)" stroke="#000" stroke-width="0.45">AUG</text>
<text font-size="25.80" fill="#000" transform="translate(843.22,37.80) scale(0.7527,1)" stroke="#000" stroke-width="0.45">08</text>
<text font-size="25.80" fill="#000" transform="translate(872.30,37.80) scale(0.7511,1)" stroke="#000" stroke-width="0.45">16:14:18</text>
<text font-size="25.80" fill="#000" transform="translate(954.60,37.80) scale(0.7753,1)" stroke="#000" stroke-width="0.45">2022</text>
<rect x="2" y="62" width="18" height="30" rx="3.5" fill="#fff"/>
<path d="M2 92v-26.5a3.5 3.5 0 0 1 3.5 -3.5h14.5l-2 2h-12.5v26z" fill="#5e5426"/>
<rect x="4" y="64" width="14" height="26" rx="2" fill="#000"/>
<path d="M11.00 66.00h2.3v18.00h-2.3v-14.60l-2.6 2.9l-1 -1.3l3.6 -4.2z" fill="#ffff00"/>
<rect x="127" y="62" width="18" height="30" rx="3.5" fill="#5e5426"/>
<path d="M127 92v-26.5a3.5 3.5 0 0 1 3.5 -3.5h14.5l-2 2h-12.5v26z" fill="#fff"/>
<rect x="129" y="64" width="14" height="26" rx="2" fill="#000"/>
<text font-size="26.09" fill="#2eff00" transform="translate(130.21,84.00) scale(0.7582,1)" stroke="#2eff00" stroke-width="0.5">2</text>
<rect x="252" y="62" width="18" height="30" rx="3.5" fill="#5e5426"/>
<path d="M252 92v-26.5a3.5 3.5 0 0 1 3.5 -3.5h14.5l-2 2h-12.5v26z" fill="#fff"/>
<rect x="254" y="64" width="14" height="26" rx="2" fill="#000"/>
<text font-size="26.09" fill="#2a5cff" transform="translate(255.44,84.00) scale(0.7263,1)" stroke="#2a5cff" stroke-width="0.5">3</text>
<rect x="377" y="62" width="18" height="30" rx="3.5" fill="#5e5426"/>
<path d="M377 92v-26.5a3.5 3.5 0 0 1 3.5 -3.5h14.5l-2 2h-12.5v26z" fill="#fff"/>
<rect x="379" y="64" width="14" height="26" rx="2" fill="#000"/>
<text font-size="26.09" fill="#ff1080" transform="translate(380.84,84.00) scale(0.6832,1)" stroke="#ff1080" stroke-width="0.5">4</text>
<path d="M44.10 66.00h2.3v18.00h-2.3v-14.60l-2.6 2.9l-1 -1.3l3.6 -4.2z" fill="#000"/>
<text font-size="26.09" fill="#000" transform="translate(50.60,84.00) scale(0.8527,1)" stroke="#000" stroke-width="0.4">.00V</text>
<path d="M95.3 84.7h2.5l8.6 -18.7h-2.5z" fill="#000"/>
<text font-size="26.09" fill="#000" transform="translate(573.13,84.00) scale(0.8300,1)" stroke="#000" stroke-width="0.4">0.0s</text>
<text font-size="26.09" fill="#000" transform="translate(661.98,84.00) scale(0.7831,1)" stroke="#000" stroke-width="0.4">5.00</text>
<path d="M705 68h6v1h1v6h-2v-5h-3v5h-2z" fill="#000"/>
<path d="M706 76h6v2h-5v1h4v1h1v3h-1v1h-6v-2h5v-1h-4v-1h-1v-3h1z" fill="#000"/>
<path d="M713.2 84.6h2.3l8.7 -18.6h-2.3z" fill="#000"/>
<text font-size="26.09" fill="#000" transform="translate(771.07,84.00) scale(0.7881,1)" stroke="#000" stroke-width="0.4">Stop</text>
<path d="M945.80 66.00h2.3v18.00h-2.3v-14.60l-2.6 2.9l-1 -1.3l3.6 -4.2z" fill="#000"/>
<text font-size="26.09" fill="#000" transform="translate(952.85,84.00) scale(0.8087,1)" stroke="#000" stroke-width="0.4">.65V</text>
<g fill="#000"><circle cx="528.20" cy="77.50" r="1.6"/><circle cx="532.50" cy="77.50" r="1.2"/><rect x="535.10" y="77.00" width="1" height="1"/><circle cx="526.74" cy="81.74" r="1.6"/><circle cx="530.00" cy="85.00" r="1.2"/><rect x="532.04" y="87.04" width="1" height="1"/><circle cx="522.50" cy="83.20" r="1.6"/><circle cx="522.50" cy="87.50" r="1.2"/><rect x="522.00" y="90.10" width="1" height="1"/><circle cx="518.26" cy="81.74" r="1.6"/><circle cx="515.00" cy="85.00" r="1.2"/><rect x="511.96" y="87.04" width="1" height="1"/><circle cx="516.80" cy="77.50" r="1.6"/><circle cx="512.50" cy="77.50" r="1.2"/><rect x="508.90" y="77.00" width="1" height="1"/><circle cx="518.26" cy="73.26" r="1.6"/><circle cx="515.00" cy="70.00" r="1.2"/><rect x="511.96" y="66.96" width="1" height="1"/><circle cx="522.50" cy="71.80" r="1.6"/><circle cx="522.50" cy="67.50" r="1.2"/><rect x="522.00" y="63.90" width="1" height="1"/><circle cx="526.74" cy="73.26" r="1.6"/><circle cx="530.00" cy="70.00" r="1.2"/><rect x="532.04" y="66.96" width="1" height="1"/></g>
<path d="M849 82h4v-16h6v2h-4v16h-6z" fill="#000"/>
<path d="M848.6 77h10.8l-5.4 -5.8z" fill="#000"/>
<rect x="885" y="62" width="27" height="30" rx="4.5" fill="#fff"/>
<rect x="887.5" y="64" width="22.5" height="26" rx="2.5" fill="#000"/>
<path d="M899.20 66.00h2.3v18.00h-2.3v-14.60l-2.6 2.9l-1 -1.3l3.6 -4.2z" fill="#ffff00"/>
<rect x="6" y="734" width="244" height="30" rx="3.5" fill="#5e5426"/>
<path d="M6 764v-26.5a3.5 3.5 0 0 1 3.5 -3.5h240l-2 2h-238v26z" fill="#fff"/>
<rect x="8" y="736" width="240" height="26" rx="2" fill="#2e2e2e"/>
<rect x="261" y="734" width="244" height="30" rx="3.5" fill="#5e5426"/>
<path d="M261 764v-26.5a3.5 3.5 0 0 1 3.5 -3.5h240l-2 2h-238v26z" fill="#fff"/>
<rect x="263" y="736" width="240" height="26" rx="2" fill="#2e2e2e"/>
<text font-size="24.35" fill="#fff" transform="translate(8.91,755.70) scale(0.8170,1)" stroke="#fff" stroke-width="0.2">Freq(</text>
<path d="M62.40 738.70h2.3v17.00h-2.3v-13.60l-2.6 2.9l-1 -1.3l3.6 -4.2z" fill="#ffff00"/>
<text font-size="24.35" fill="#fff" transform="translate(73.65,755.70) scale(0.7975,1)" stroke="#fff" stroke-width="0.2">):</text>
<text font-size="24.35" fill="#fff" transform="translate(92.87,755.70) scale(0.9007,1)" stroke="#fff" stroke-width="0.2">39.9MHz</text>
<text font-size="24.35" fill="#fff" transform="translate(264.96,755.70) scale(0.7912,1)" stroke="#fff" stroke-width="0.2">Rise(</text>
<path d="M315.90 738.70h2.3v17.00h-2.3v-13.60l-2.6 2.9l-1 -1.3l3.6 -4.2z" fill="#ffff00"/>
<text font-size="24.35" fill="#fff" transform="translate(327.15,755.70) scale(0.7975,1)" stroke="#fff" stroke-width="0.2">):</text>
<text font-size="24.35" fill="#fff" transform="translate(346.37,755.70) scale(0.9006,1)" stroke="#fff" stroke-width="0.2">3.10ns</text>
<rect x="14" y="770" width="156" height="54" rx="5" fill="#5e5426"/>
<path d="M14 824v-49a5 5 0 0 1 5 -5h151l-2 2h-149v50z" fill="#fff"/>
<rect x="16" y="772" width="152" height="50" rx="3" fill="#d0e2f7"/>
<rect x="182" y="770" width="156" height="54" rx="5" fill="#5e5426"/>
<path d="M182 824v-49a5 5 0 0 1 5 -5h151l-2 2h-149v50z" fill="#fff"/>
<rect x="184" y="772" width="152" height="50" rx="3" fill="#d0e2f7"/>
<rect x="350" y="770" width="156" height="54" rx="5" fill="#5e5426"/>
<path d="M350 824v-49a5 5 0 0 1 5 -5h151l-2 2h-149v50z" fill="#fff"/>
<rect x="352" y="772" width="152" height="50" rx="3" fill="#d0e2f7"/>
<rect x="518" y="770" width="156" height="54" rx="5" fill="#5e5426"/>
<path d="M518 824v-49a5 5 0 0 1 5 -5h151l-2 2h-149v50z" fill="#fff"/>
<rect x="520" y="772" width="152" height="50" rx="3" fill="#d0e2f7"/>
<rect x="686" y="770" width="156" height="54" rx="5" fill="#5e5426"/>
<path d="M686 824v-49a5 5 0 0 1 5 -5h151l-2 2h-149v50z" fill="#fff"/>
<rect x="688" y="772" width="152" height="50" rx="3" fill="#d0e2f7"/>
<rect x="854" y="770" width="156" height="54" rx="5" fill="#5e5426"/>
<path d="M854 824v-49a5 5 0 0 1 5 -5h151l-2 2h-149v50z" fill="#fff"/>
<rect x="856" y="772" width="152" height="50" rx="3" fill="#d0e2f7"/>
<text font-size="24.35" fill="#000" transform="translate(57.66,791.30) scale(0.8602,1)" stroke="#000" stroke-width="0.4">Source</text>
<text font-size="24.35" fill="#000" transform="translate(69.82,815.50) scale(0.8788,1)" stroke="#000" stroke-width="0.4">TCK</text>
<text font-size="24.35" fill="#000" transform="translate(226.93,791.30) scale(0.8840,1)" stroke="#000" stroke-width="0.4">Select:</text>
<text font-size="24.35" fill="#000" transform="translate(238.15,815.50) scale(0.8214,1)" stroke="#000" stroke-width="0.4">Rise</text>
<text font-size="24.35" fill="#000" transform="translate(383.25,791.30) scale(0.9000,1)" stroke="#000" stroke-width="0.4">Measure</text>
<text font-size="24.35" fill="#000" transform="translate(406.15,815.50) scale(0.8214,1)" stroke="#000" stroke-width="0.4">Rise</text>
<text font-size="24.35" fill="#000" transform="translate(555.30,791.30) scale(0.9086,1)" stroke="#000" stroke-width="0.4">Settings</text>
<text font-size="24.35" fill="#000" transform="translate(707.42,791.30) scale(0.8859,1)" stroke="#000" stroke-width="0.4">Clear Meas</text>
<text font-size="24.35" fill="#000" transform="translate(884.96,791.30) scale(0.9534,1)" stroke="#000" stroke-width="0.4">Statistics</text>
<path d="M590.0 799h11v7h19l-24.5 13l-24.5 -13h19z" fill="#000"/>
<path d="M758.0 799h11v7h19l-24.5 13l-24.5 -13h19z" fill="#000"/>
<path d="M926.0 799h11v7h19l-24.5 13l-24.5 -13h19z" fill="#000"/>
<path d="M31.30 776.39A9.05 9.05 0 1 1 25.05 786.20" stroke="#000" stroke-width="3.8" fill="none"/>
<path d="M24.45 779.10L30.85 786.50L18.15 786.50z" fill="#000"/>
<path d="M31.30 776.39A9.05 9.05 0 1 1 25.05 786.20" stroke="#ff9100" stroke-width="1.9" fill="none"/>
<path d="M24.45 780.60L28.75 785.60L20.25 785.60z" fill="#ff9100"/>
<path d="M199.30 776.39A9.05 9.05 0 1 1 193.05 786.20" stroke="#9e9b70" stroke-width="1.9" fill="none"/>
<path d="M192.45 780.10L198.05 786.00L186.95 786.00z" fill="#9e9b70"/>
</svg>
</body></html>
